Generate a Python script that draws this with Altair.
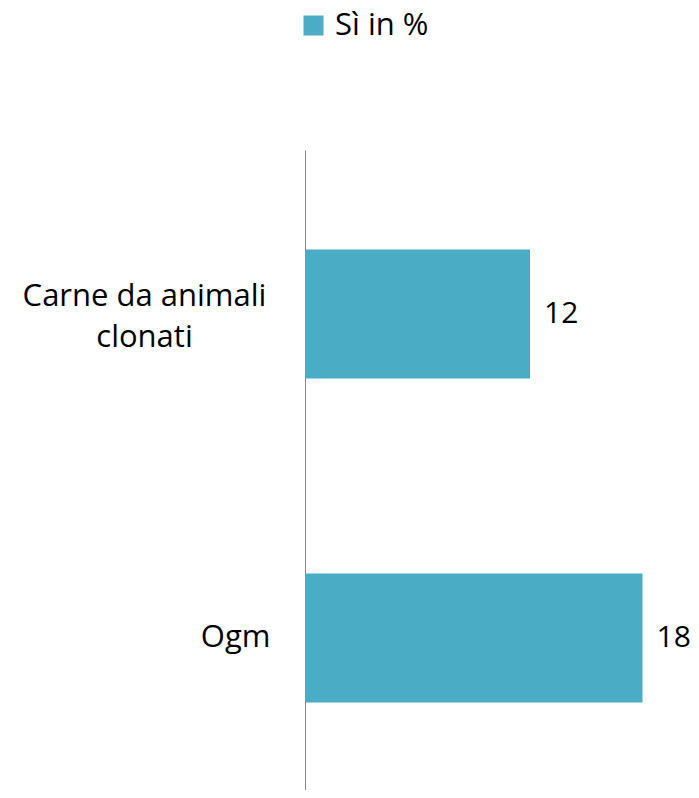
import altair as alt
import pandas as pd

categorie = ["Carne da animali clonati", "Ogm"]
valori = [12, 18]
serie = ["Sì in %", "Sì in %"]

df = pd.DataFrame({"categoria": categorie, "valore": valori, "serie": serie})

FONT = "Open Sans"
FS = 31
LONG = "Carne da animali clonati"
TEST = "datum.value == '" + LONG + "'"

y_enc = alt.Y(
    "categoria:N",
    sort=categorie,
    title=None,
    scale=alt.Scale(paddingInner=0.602, paddingOuter=0.289, align=0.532),
    axis=alt.Axis(
        domainColor="#868686",
        domainWidth=1,
        ticks=False,
        grid=False,
        labelFont=FONT,
        labelFontSize=FS,
        labelColor="#000000",
        labelLimit=600,
        labelOverlap=False,
        labelLineHeight=41,
        labelBaseline="middle",
        labelExpr=TEST + " ? ['Carne da animali', 'clonati'] : datum.label",
        labelAlign={"condition": {"test": TEST, "value": "center"}, "value": "right"},
        labelPadding={"condition": {"test": TEST, "value": 161}, "value": 35},
        labelOffset={"condition": {"test": TEST, "value": -17}, "value": 0},
    ),
)
x_enc = alt.X("valore:Q", scale=alt.Scale(domain=[0, 20]), axis=None)

bars = alt.Chart(df).mark_bar().encode(
    x=x_enc,
    y=y_enc,
    color=alt.Color(
        "serie:N",
        scale=alt.Scale(range=["#4BACC6"]),
        legend=alt.Legend(
            orient="none",
            legendX=-7,
            legendY=-140,
            title=None,
            symbolType="square",
            symbolSize=400,
            symbolStrokeWidth=0,
            labelFont=FONT,
            labelFontSize=FS,
            labelColor="#000000",
            labelOffset=6,
            labelLimit=400,
            padding=0,
        ),
    ),
)

labels = alt.Chart(df).mark_text(
    align="left", baseline="middle", dx=14, font=FONT, fontSize=30, color="#000000"
).encode(x=x_enc, y=alt.Y("categoria:N", sort=categorie), text="valore:Q")

chart = (
    alt.layer(bars, labels)
    .properties(
        width=375,
        height=640,
        padding={"left": 297, "top": 142, "right": 11, "bottom": 0},
        autosize=alt.AutoSizeParams(type="none"),
    )
    .configure_view(strokeWidth=0)
)

chart.save("out.html", embed_options={"renderer": "svg", "actions": False})
